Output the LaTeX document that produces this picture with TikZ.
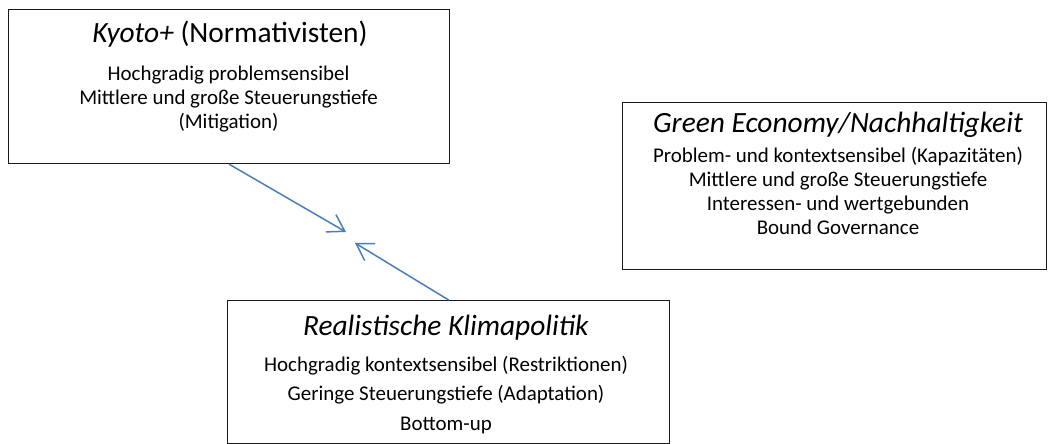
\documentclass[tikz,border=0pt]{standalone}
\usepackage{fontspec}
\setmainfont{Carlito}
\usetikzlibrary{arrows.meta}
\definecolor{arrowblue}{HTML}{4A7EBB}
\definecolor{boxline}{HTML}{1A1A1A}
\begin{document}
\begin{tikzpicture}[x=1bp,y=-1bp,
  box/.style={draw=boxline, line width=1.2bp, rectangle, inner sep=0pt, anchor=north west},
  ttl/.style={font=\fontsize{29.5}{34}\selectfont, anchor=base, inner sep=0pt},
  body/.style={font=\fontsize{21}{24}\selectfont, anchor=base, inner sep=0pt},
  conn/.style={draw=arrowblue, line width=1.5bp, -{Straight Barb[length=16bp,width=20bp,line width=1.5bp]}}]
\useasboundingbox (0,0) rectangle (1049,444);
% Box 1
\node[box, minimum width=441bp, minimum height=154bp] (k) at (8,9) {};
\node[ttl] (kt) at (230,43) {\textit{Kyoto+} (Normativisten)};
\node[body] (k1) at (228.5,81) {Hochgradig problemsensibel};
\node[body] (k2) at (228.5,105) {Mittlere und große Steuerungstiefe};
\node[body] (k3) at (228.5,129) {(Mitigation)};
% Box 2
\node[box, minimum width=424bp, minimum height=167bp] (g) at (622,102) {};
\node[ttl] (gt) at (838,133) {\textit{Green Economy/Nachhaltigkeit}};
\node[body] (g1) at (838,163) {Problem- und kontextsensibel (Kapazitäten)};
\node[body] (g2) at (838,187) {Mittlere und große Steuerungstiefe};
\node[body] (g3) at (838,211) {Interessen- und wertgebunden};
\node[body] (g4) at (838,235) {Bound Governance};
% Box 3
\node[box, minimum width=442bp, minimum height=143bp] (r) at (227,300) {};
\node[ttl] (rt) at (446,336) {\textit{Realistische Klimapolitik}};
\node[body] (r1) at (446,372) {Hochgradig kontextsensibel (Restriktionen)};
\node[body] (r2) at (446,401) {Geringe Steuerungstiefe (Adaptation)};
\node[body] (r3) at (446,430) {Bottom-up};
% connectors
\coordinate (m1) at (346,232);
\coordinate (m2) at (355,243);
\draw[conn] (k.south) -- (m1);
\draw[conn] (r.north) -- (m2);
\end{tikzpicture}
\end{document}
